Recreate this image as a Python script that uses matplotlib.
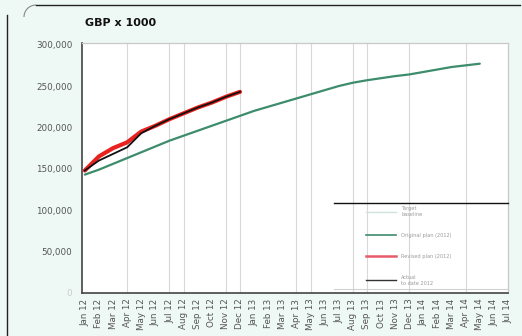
import matplotlib
matplotlib.use("Agg")
import matplotlib.pyplot as plt
from matplotlib.lines import Line2D
from matplotlib.patches import Arc

# Month labels, Jan 12 .. Jul 14
months = ["Jan 12", "Feb 12", "Mar 12", "Apr 12", "May 12", "Jun 12", "Jul 12",
          "Aug 12", "Sep 12", "Oct 12", "Nov 12", "Dec 12", "Jan 13", "Feb 13",
          "Mar 13", "Apr 13", "May 13", "Jun 13", "Jul 13", "Aug 13", "Sep 13",
          "Oct 13", "Nov 13", "Dec 13", "Jan 14", "Feb 14", "Mar 14", "Apr 14",
          "May 14", "Jun 14", "Jul 14"]

# Cumulative values, GBP x 1000
plan_long = [143000, 149000, 156000, 163000, 170000, 177000, 184000, 190000,
             196000, 202000, 208000, 214000, 220000, 225000, 230000, 235000,
             240000, 245000, 250000, 254000, 257000, 259500, 262000, 264000,
             267000, 270000, 273000, 275000, 277000]
forecast_2012 = [148000, 165000, 175000, 182000, 195000, 202000, 210000,
                 217000, 224000, 230000, 237000, 243000]
actual = [148000, 160000, 168000, 176000, 193000, 202000, 210000,
          217000, 224000, 230000, 237000, 243000]

y_ticks = [0, 50000, 100000, 150000, 200000, 250000, 300000]
grid_months = [3, 6, 7, 10, 11, 15, 16, 19, 20, 23, 27]

labels = ["Target\nbaseline", "Original plan (2012)", "Revised plan (2012)",
          "Actual\nto date 2012"]

green = "#3d8c6c"
red = "#e8231f"
bg = "#eef8f4"

fig = plt.figure(figsize=(5.22, 3.36), dpi=100)
fig.patch.set_facecolor(bg)

ax = fig.add_axes([82 / 522, 1 - 293 / 336, (508 - 82) / 522, (293 - 43) / 336])
ax.set_facecolor("white")

x_long = list(range(len(plan_long)))
x_short = list(range(len(actual)))
ax.plot(x_long, plan_long, color=green, lw=1.6, zorder=3, solid_capstyle="round")
ax.plot(x_short, forecast_2012, color=red, lw=3.0, zorder=4, solid_capstyle="round")
ax.plot(x_short, actual, color="#111111", lw=1.3, zorder=5)

ax.set_xlim(-0.2, 30.0)
ax.set_ylim(0, 302000)

ax.set_xticks(range(len(months)))
ax.set_xticklabels(months, rotation=90, fontsize=6.3, color="#555555")
ax.set_yticks(y_ticks)
ax.set_yticklabels(["0" if v == 0 else f"{v:,}" for v in y_ticks],
                   fontsize=6.3, color="#555555")
ax.get_yticklabels()[0].set_color("#cccccc")
ax.tick_params(axis="y", length=0, pad=7)
ax.tick_params(axis="x", length=0, pad=4)

for m in grid_months:
    ax.axvline(m, color="#d8d8d8", lw=0.8, zorder=1)

for side in ("top", "right"):
    ax.spines[side].set_color("#c8c8c8")
    ax.spines[side].set_linewidth(0.9)
for side in ("left", "bottom"):
    ax.spines[side].set_color("#444444")
    ax.spines[side].set_linewidth(1.2)

fig.text(85 / 522, 1 - 23 / 336, "GBP x 1000", fontsize=8, fontweight="bold",
         color="#111111", va="center", ha="left")

# Legend block in the lower right of the plot area
handles = [Line2D([], [], color="#cfe3dc", lw=1.0),
           Line2D([], [], color=green, lw=1.2),
           Line2D([], [], color="#e65a6a", lw=1.8),
           Line2D([], [], color="#333333", lw=1.0)]
leg = ax.legend(handles, labels, loc="upper left",
                bbox_to_anchor=((364 - 82) / 426, (293 - 204) / 250),
                frameon=False, fontsize=3.6, handlelength=6.0,
                labelspacing=3.2, handletextpad=1.0, borderaxespad=0)
for t in leg.get_texts():
    t.set_color("#9a9a9a")
ax.plot([(334 - 82) / 426, 1.0], [(293 - 203) / 250] * 2, transform=ax.transAxes,
        color="#111111", lw=1.0, zorder=6, clip_on=False)
ax.plot([(334 - 82) / 426, 1.0], [(293 - 289) / 250] * 2, transform=ax.transAxes,
        color="#d0d0d0", lw=0.8, zorder=6, clip_on=False)

# Outer chart-area frame
fig.add_artist(Line2D([36 / 522, 520 / 522], [1 - 5 / 336] * 2,
                      color="#222222", lw=1.0, transform=fig.transFigure))
fig.add_artist(Line2D([7 / 522, 7 / 522], [1 - 15 / 336, 0],
                      color="#222222", lw=1.0, transform=fig.transFigure))
fig.add_artist(Arc((36 / 522, 1 - 17 / 336), 24 / 522, 24 / 336, theta1=90,
                   theta2=180, color="#888888", lw=0.8,
                   transform=fig.transFigure))

fig.savefig("out.png", dpi=100, facecolor=bg)
